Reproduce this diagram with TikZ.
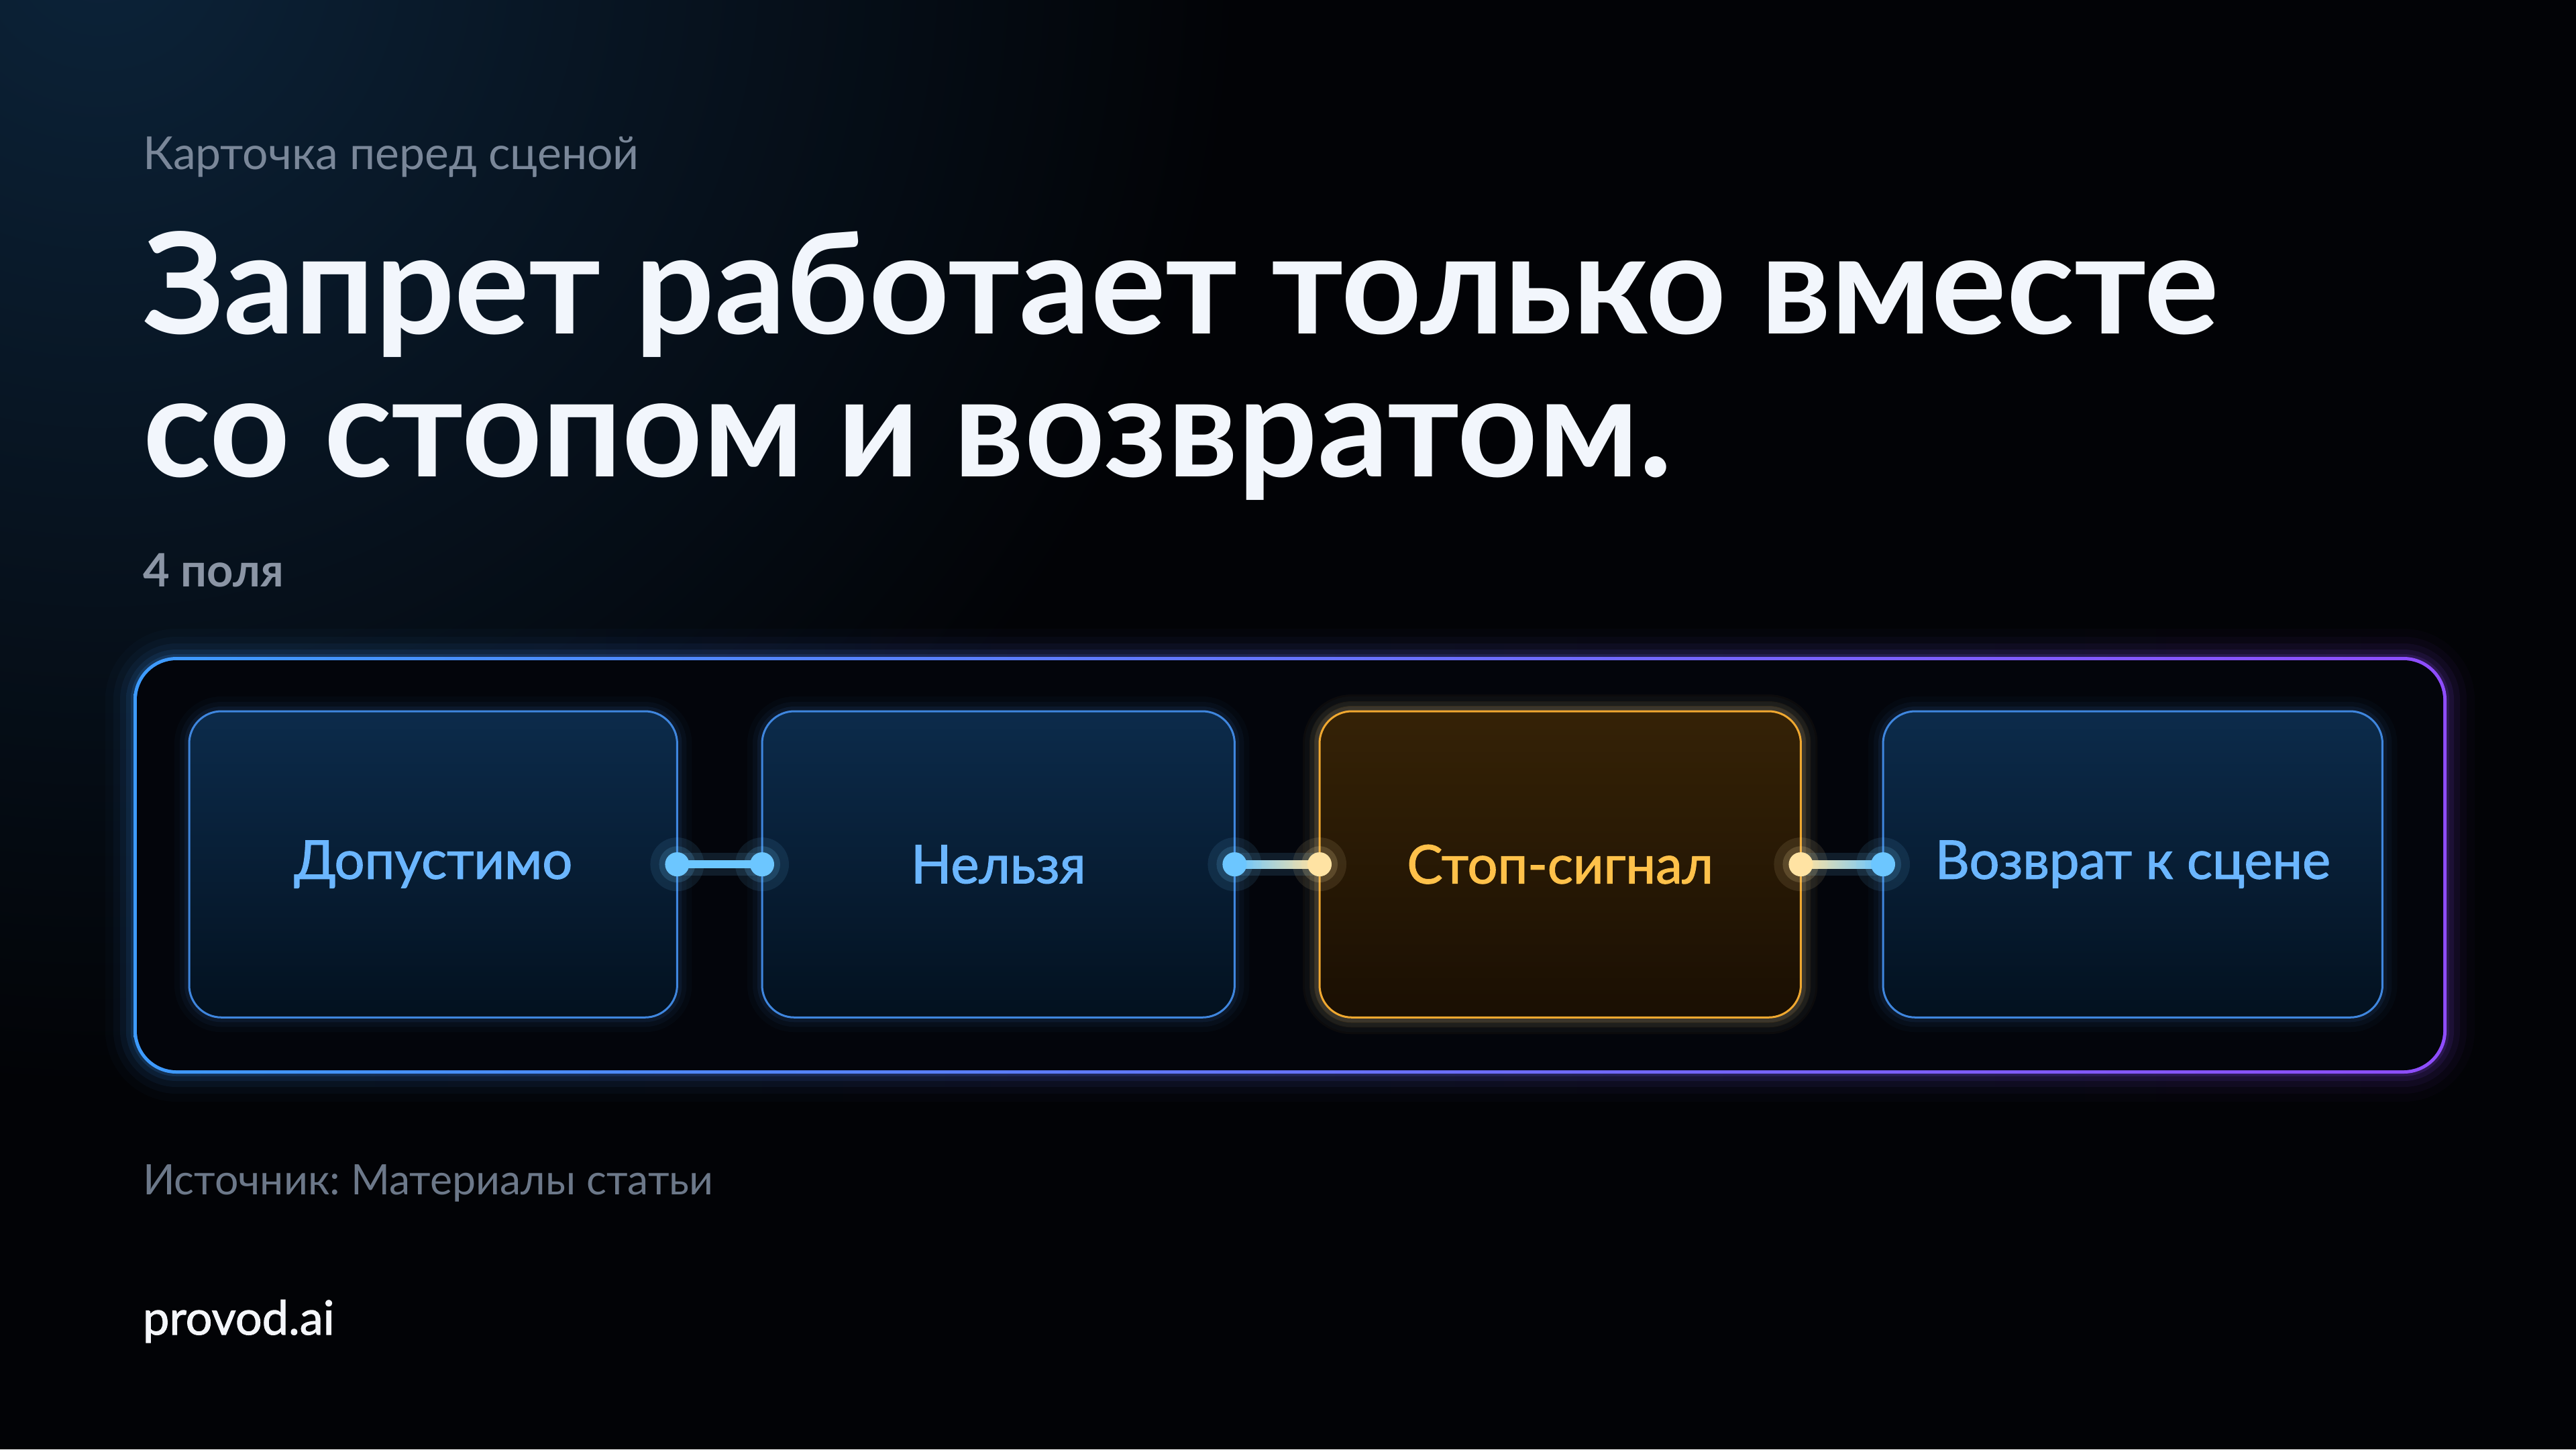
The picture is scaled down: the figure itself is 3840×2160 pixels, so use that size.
\documentclass[tikz,border=0pt]{standalone}
\usepackage{fontspec}
\setmainfont{Lato}
\newfontfamily\medfont{Lato}[FakeBold=1.5]
\frenchspacing
\usetikzlibrary{calc}
\definecolor{bg}{HTML}{020306}
\definecolor{glowtl}{HTML}{0C2339}
\definecolor{subc}{HTML}{7A8799}
\definecolor{titlec}{HTML}{F2F6FC}
\definecolor{fieldc}{HTML}{8B95A5}
\definecolor{outerA}{HTML}{3D9BFF}
\definecolor{outerB}{HTML}{8F4DFF}
\definecolor{innerc}{HTML}{03050B}
\definecolor{cardB}{HTML}{3F86DE}
\definecolor{cardT}{HTML}{0C2B4B}
\definecolor{cardBot}{HTML}{03111F}
\definecolor{cardtxt}{HTML}{6BB6FF}
\definecolor{stopB}{HTML}{F0A830}
\definecolor{stopT}{HTML}{352206}
\definecolor{stopBot}{HTML}{1A0F03}
\definecolor{stoptxt}{HTML}{FFC14A}
\definecolor{dotB}{HTML}{6CC6FF}
\definecolor{dotY}{HTML}{FFE3A3}
\definecolor{srcc}{HTML}{6C7889}
\definecolor{brandc}{HTML}{F4F6FA}
\tikzset{
  txt/.style={anchor=base west, inner sep=0pt, outer sep=0pt},
  card/.style={draw=cardB, line width=0.03cm, rounded corners=0.48cm,
    top color=cardT, bottom color=cardBot, minimum height=4.56cm,
    inner sep=0pt, outer sep=0pt, anchor=north west,
    font=\medfont\fontsize{22.6}{26}\selectfont, text=cardtxt,
    preaction={draw=cardB, line width=0.44cm, draw opacity=0.03},
    preaction={draw=cardB, line width=0.28cm, draw opacity=0.05},
    preaction={draw=cardB, line width=0.14cm, draw opacity=0.09}},
  stopcard/.style={card, draw=stopB, top color=stopT, bottom color=stopBot, text=stoptxt,
    preaction={draw=stopB, line width=0.50cm, draw opacity=0.04},
    preaction={draw=stopB, line width=0.30cm, draw opacity=0.07},
    preaction={draw=stopB, line width=0.16cm, draw opacity=0.12}},
  connglow/.style={line width=0.34cm, draw opacity=0.13},
  conncore/.style={line width=0.12cm},
  titletxt/.style={txt, text=titlec, font=\bfseries\fontsize{59.5}{60}\selectfont},
}
\newcommand{\mydot}[2]{%
  \fill[#2, opacity=0.10] (#1) circle[radius=0.40cm];
  \fill[#2, opacity=0.16] (#1) circle[radius=0.27cm];
  \fill[#2] (#1) circle[radius=0.18cm];}
\begin{document}
\begin{tikzpicture}[x=0.01cm,y=-0.01cm]
\useasboundingbox (0,0) rectangle (3840,2160);
\fill[bg] (0,0) rectangle (3840,2160);
\begin{scope}
\clip (0,0) rectangle (3840,2160);
\shade[inner color=glowtl, outer color=bg] (150,-80) circle[radius=17cm];
\end{scope}

% texts
\node[txt, text=subc, font=\fontsize{19.3}{23}\selectfont] (sub) at (213,252) {Карточка перед сценой};
\node[titletxt] (t1) at (213,497) {Запрет работает только вместе};
\node[titletxt] (t2) at (213,710) {со стопом и возвратом.};
\node[txt, text=fieldc, font=\bfseries\fontsize{19.5}{22}\selectfont] (fields) at (213,874) {4 поля};

% outer container
\foreach \e/\o in {44/0.025, 32/0.04, 22/0.06, 13/0.09, 6/0.14} {
  \pgfmathsetmacro\rr{(62+\e)/100}
  \shade[left color=outerA, right color=outerB, opacity=\o, rounded corners=\rr cm]
    (201-\e,981-\e) rectangle (3645+\e,1598+\e);
}
\shade[left color=outerA, right color=outerB, rounded corners=0.64cm] (199,979) rectangle (3647,1600);
\fill[innerc, rounded corners=0.59cm] (204,984) rectangle (3642,1595);

% cards
\node[card, minimum width=7.27cm] (c1) at (282,1060) {Допустимо};
\node[card, minimum width=7.04cm] (c2) at (1136,1060) {Нельзя};
\node[stopcard, minimum width=7.17cm] (c3) at (1967,1060) {Стоп-сигнал};
\node[card, minimum width=7.44cm] (c4) at (2807,1060) {Возврат к сцене};

% connectors
\draw[connglow, dotB] (c1.east) -- (c2.west);
\draw[conncore, dotB] (c1.east) -- (c2.west);
\draw[connglow, dotB] (c2.east) -- (c3.west);
\shade[left color=dotB, right color=dotY] ($(c2.east)+(0,-6)$) rectangle ($(c3.west)+(0,6)$);
\draw[connglow, dotB] (c3.east) -- (c4.west);
\shade[left color=dotY, right color=dotB] ($(c3.east)+(0,-6)$) rectangle ($(c4.west)+(0,6)$);

\mydot{c1.east}{dotB}
\mydot{c2.west}{dotB}
\mydot{c2.east}{dotB}
\mydot{c3.west}{dotY}
\mydot{c3.east}{dotY}
\mydot{c4.west}{dotB}

% footer
\node[txt, text=srcc, font=\fontsize{17.8}{21}\selectfont] (src) at (213,1780) {Источник: Материалы статьи};
\node[txt, text=brandc, font=\medfont\fontsize{20}{24}\selectfont] (brand) at (213,1989) {provod.ai};
\end{tikzpicture}
\end{document}
